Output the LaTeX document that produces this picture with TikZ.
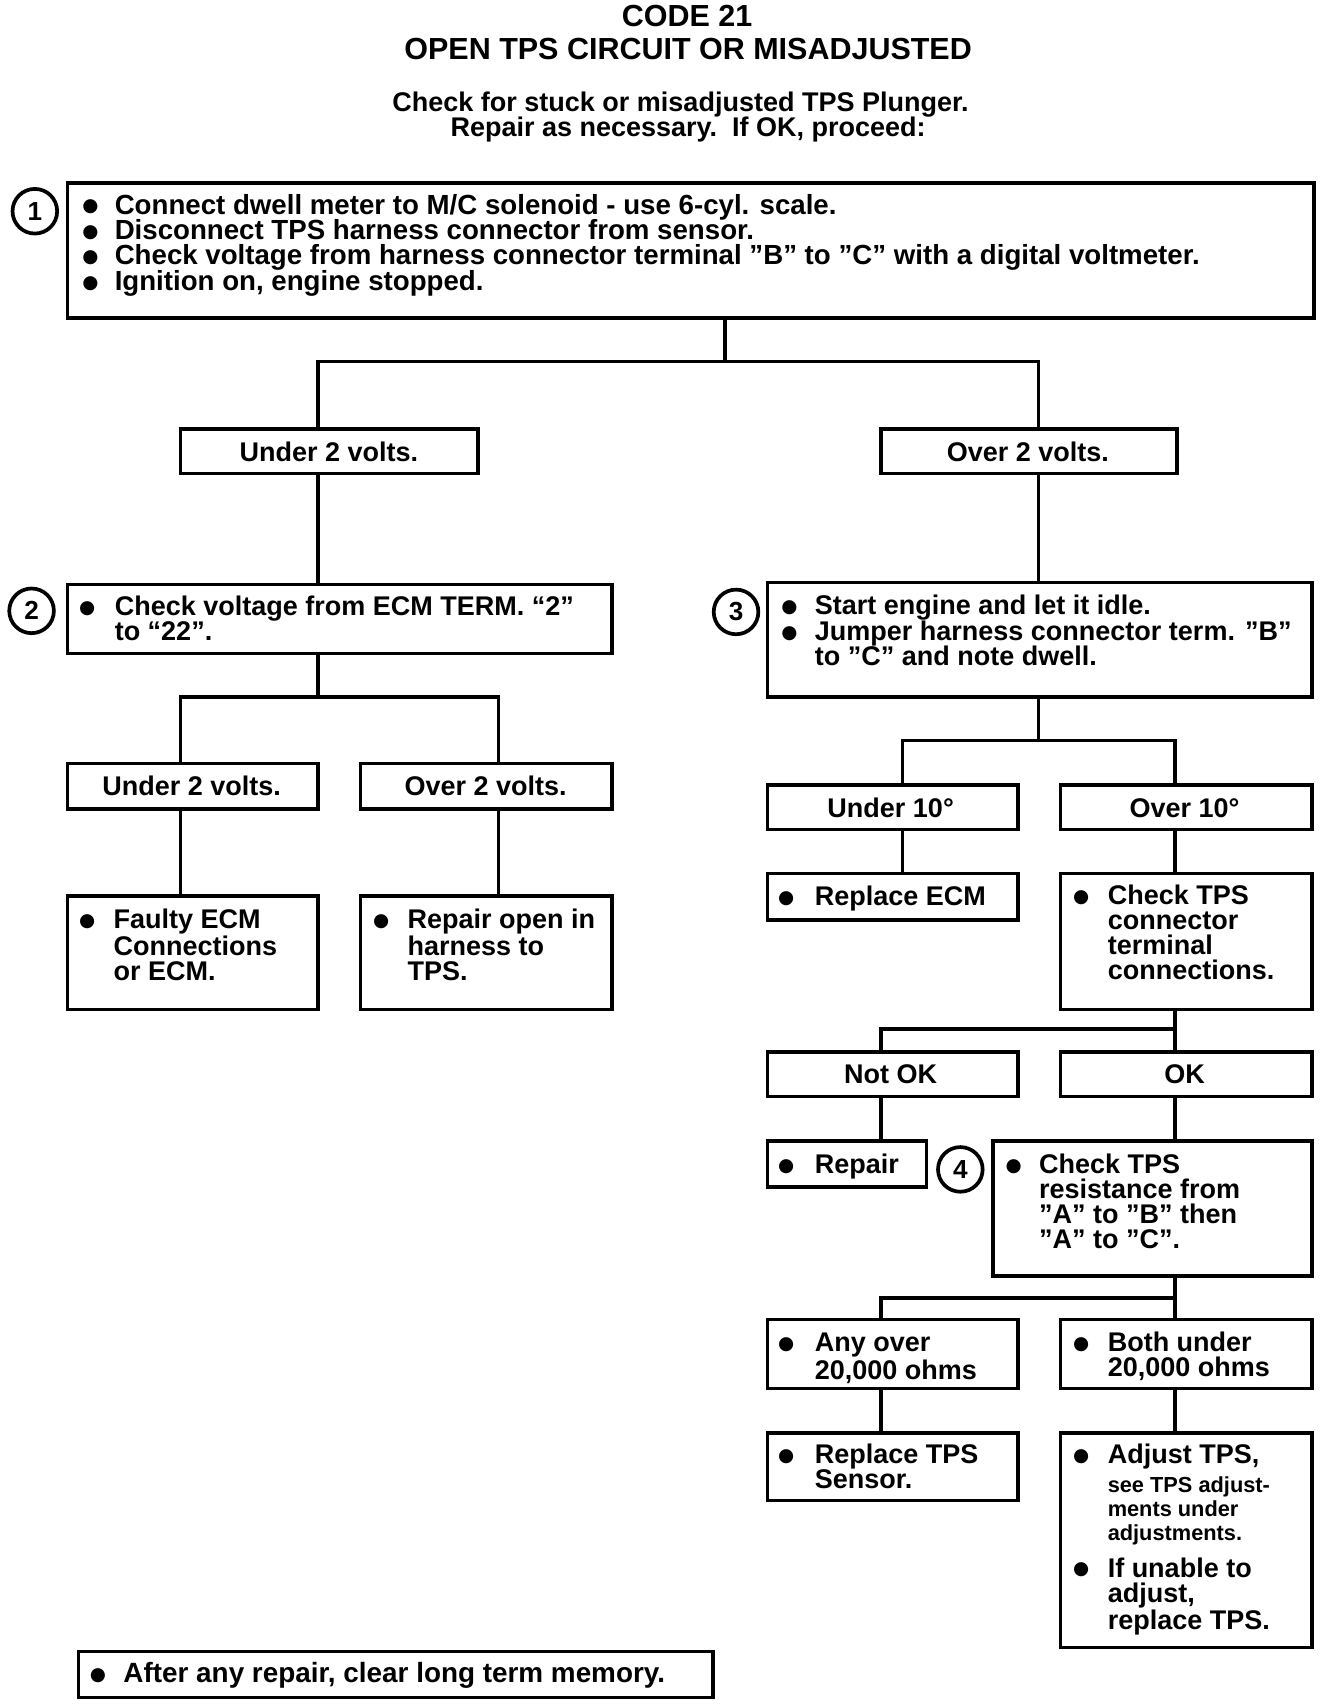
\documentclass[tikz,border=0pt]{standalone}
\usepackage{fontspec}
\setmainfont{Liberation Sans}
\newfontfamily\dejavu{DejaVu Sans}
\usetikzlibrary{fit}
\newcommand\tline[1]{\hbox{#1}}
\begin{document}
\begin{tikzpicture}[x=0.5pt,y=-0.5pt,
  box/.style={draw, line width=1.6pt, inner sep=0pt, rectangle},
  lbl/.style={anchor=center, inner sep=0pt, font=\bfseries\fontsize{12.4pt}{12.4pt}\selectfont, text height=8.9pt, text depth=0pt},
  conn/.style={line width=1.6pt, line join=miter},
  txt/.style={anchor=base west, inner sep=0pt, font=\bfseries\fontsize{12.4pt}{11.5pt}\selectfont},
  bul/.style={anchor=base, inner sep=0pt, yshift=1pt, font=\dejavu\fontsize{8.5pt}{8.5pt}\selectfont},
  small/.style={anchor=base west, inner sep=0pt, font=\bfseries\fontsize{10pt}{11pt}\selectfont},
  num/.style={circle, draw, line width=1.7pt, minimum size=20.5pt, inner sep=0pt, font=\bfseries\fontsize{12pt}{12pt}\selectfont},
  ttl/.style={anchor=base, inner sep=0pt, font=\bfseries\fontsize{14pt}{14pt}\selectfont},
  sub/.style={anchor=base, inner sep=0pt, font=\bfseries\fontsize{12.4pt}{12.4pt}\selectfont}]
\path[fill=white,use as bounding box] (0,0) rectangle (1220,1565);

% titles
\node[ttl] (t1) at (631,24.5) {CODE 21};
\node[ttl] (t2) at (632,54.5) {OPEN TPS CIRCUIT OR MISADJUSTED};
\node[sub] (s1) at (625,102.6) {Check for stuck or misadjusted TPS Plunger.};
\node[sub] (s2) at (632,125.6) {Repair as necessary.\ \ If OK, proceed:};

% boxes
\node[box, fit={(62,168) (1207,292)}] (b1) {};
\node[box, fit={(166,394) (439,435)}] (u2) {};
\node[box, fit={(809,394) (1081,435)}] (o2) {};
\node[box, fit={(62,537) (562,600)}] (b2) {};
\node[box, fit={(62,701) (292,743)}] (u2b) {};
\node[box, fit={(331,701) (562,743)}] (o2b) {};
\node[box, fit={(62,823) (292,927)}] (fe) {};
\node[box, fit={(331,823) (562,927)}] (ro) {};
\node[box, fit={(705,535) (1205,640)}] (b3) {};
\node[box, fit={(705,721) (935,762)}] (u10) {};
\node[box, fit={(974,721) (1205,762)}] (o10) {};
\node[box, fit={(705,802) (935,845)}] (re) {};
\node[box, fit={(974,802) (1205,927)}] (ct) {};
\node[box, fit={(705,966) (935,1007)}] (nok) {};
\node[box, fit={(974,966) (1205,1007)}] (ok) {};
\node[box, fit={(705,1048) (851,1090)}] (rp) {};
\node[box, fit={(912,1048) (1205,1172)}] (b4) {};
\node[box, fit={(705,1212) (935,1275)}] (ao) {};
\node[box, fit={(974,1212) (1205,1275)}] (bu) {};
\node[box, fit={(705,1316) (935,1378)}] (rt) {};
\node[box, fit={(974,1316) (1205,1513)}] (ad) {};
\node[box, fit={(72,1517) (655,1559)}] (af) {};

% single-line labels
\node[lbl] (lu2) at (302,414.5) {Under 2 volts.};
\node[lbl] (lo2) at (944,414.5) {Over 2 volts.};
\node[lbl] (lu2b) at (176,722) {Under 2 volts.};
\node[lbl] (lo2b) at (446,722) {Over 2 volts.};
\node[lbl] (lu10) at (818,741.5) {Under 10°};
\node[lbl] (lo10) at (1088,741.5) {Over 10°};
\node[lbl] (lnok) at (818,986.5) {Not OK};
\node[lbl] (lok) at (1088,986.5) {OK};

% step numbers
\node[num] (n1) at (32,194) {1};
\node[num] (n2) at (29,561) {2};
\node[num] (n3) at (676,562) {3};
\node[num] (n4) at (882,1074) {4};

% connector coordinates
\coordinate (j1) at (666,332); \coordinate (j1l) at (292,332); \coordinate (j1r) at (954,332);
\coordinate (j2) at (292,640); \coordinate (j2l) at (166,640); \coordinate (j2r) at (458,640);
\coordinate (j3) at (954,680); \coordinate (j3l) at (829,680); \coordinate (j3r) at (1079,680);
\coordinate (j4l) at (809,945); \coordinate (j4r) at (1079,945);
\coordinate (j5l) at (809,1192); \coordinate (j5r) at (1079,1192);

% connectors
\draw[conn] (b1.south -| j1) -- (j1);
\draw[conn] (u2.north -| j1l) -- (j1l) -- (j1r) -- (o2.north -| j1r);
\draw[conn] (u2.south -| j1l) -- (b2.north -| j1l);
\draw[conn] (o2.south -| j1r) -- (b3.north -| j1r);
\draw[conn] (b2.south -| j2) -- (j2);
\draw[conn] (u2b.north -| j2l) -- (j2l) -- (j2r) -- (o2b.north -| j2r);
\draw[conn] (u2b.south -| j2l) -- (fe.north -| j2l);
\draw[conn] (o2b.south -| j2r) -- (ro.north -| j2r);
\draw[conn] (b3.south -| j3) -- (j3);
\draw[conn] (u10.north -| j3l) -- (j3l) -- (j3r) -- (o10.north -| j3r);
\draw[conn] (u10.south -| j3l) -- (re.north -| j3l);
\draw[conn] (o10.south -| j3r) -- (ct.north -| j3r);
\draw[conn] (ct.south -| j4r) -- (j4r);
\draw[conn] (nok.north -| j4l) -- (j4l) -- (j4r) -- (ok.north -| j4r);
\draw[conn] (nok.south -| j4l) -- (rp.north -| j4l);
\draw[conn] (ok.south -| j4r) -- (b4.north -| j4r);
\draw[conn] (b4.south -| j5r) -- (j5r);
\draw[conn] (ao.north -| j5l) -- (j5l) -- (j5r) -- (bu.north -| j5r);
\draw[conn] (ao.south -| j5l) -- (rt.north -| j5l);
\draw[conn] (bu.south -| j5r) -- (ad.north -| j5r);

% box 1 text
\begin{scope}[txt/.append style={font=\bfseries\fontsize{12.7pt}{11.5pt}\selectfont}]
\node[bul] (p1a) at (83,196.6) {●};
\node[bul] (p1b) at (83,219.9) {●};
\node[bul] (p1c) at (83,243.2) {●};
\node[bul] (p1d) at (83,266.5) {●};
\node[txt] (x1a) at (105,196.6) {Connect dwell meter to M/C solenoid - use 6-cyl. scale.};
\node[txt] (x1b) at (105,219.9) {Disconnect TPS harness connector from sensor.};
\node[txt] (x1c) at (105,243.2) {Check voltage from harness connector terminal ”B” to ”C” with a digital voltmeter.};
\node[txt] (x1d) at (105,266.5) {Ignition on, engine stopped.};
\end{scope}

% box 2 text
\node[bul] (p2) at (80,565) {●};
\node[txt, font=\bfseries\fontsize{12.4pt}{11.75pt}\selectfont] (x2) at (105,565) {\vtop{\tline{Check voltage from ECM TERM. “2”}\tline{to “22”.}}};

% box 3 text
\node[bul] (p3a) at (725,564.5) {●};
\node[bul] (p3b) at (725,588) {●};
\node[txt] (x3a) at (748,564.5) {Start engine and let it idle.};
\node[txt, font=\bfseries\fontsize{12.4pt}{11.75pt}\selectfont] (x3b) at (748,588) {\vtop{\tline{Jumper harness connector term. ”B”}\tline{to ”C” and note dwell.}}};

% left leaves
\node[bul] (pfe) at (80,852.5) {●};
\node[txt] (xfe) at (104,852.5) {\vtop{\tline{Faulty ECM}\tline{Connections}\tline{or ECM.}}};
\node[bul] (pro) at (350,852.5) {●};
\node[txt] (xro) at (374,852.5) {\vtop{\tline{Repair open in}\tline{harness to}\tline{TPS.}}};

% right column text
\node[bul] (pre) at (722,831.5) {●};
\node[txt] (xre) at (748,831.5) {Replace ECM};
\node[bul] (pct) at (993,830.5) {●};
\node[txt] (xct) at (1017,830.5) {\vtop{\tline{Check TPS}\tline{connector}\tline{terminal}\tline{connections.}}};
\node[bul] (prp) at (722,1077.5) {●};
\node[txt] (xrp) at (748,1077.5) {Repair};
\node[bul] (pb4) at (931,1077.5) {●};
\node[txt] (xb4) at (954,1077.5) {\vtop{\tline{Check TPS}\tline{resistance from}\tline{”A” to ”B” then}\tline{”A” to ”C”.}}};
\node[bul] (pao) at (722,1241.5) {●};
\node[txt] (xao) at (748,1241.5) {\vtop{\tline{Any over}\tline{20,000 ohms}}};
\node[bul] (pbu) at (993,1241.5) {●};
\node[txt] (xbu) at (1017,1241.5) {\vtop{\tline{Both under}\tline{20,000 ohms}}};
\node[bul] (prt) at (722,1344.5) {●};
\node[txt] (xrt) at (748,1344.5) {\vtop{\tline{Replace TPS}\tline{Sensor.}}};
\node[bul] (pad1) at (993,1344.5) {●};
\node[txt] (xad1) at (1017,1344.5) {Adjust TPS,};
\node[small] (xad2) at (1017,1371) {\vtop{\tline{see TPS adjust-}\tline{ments under}\tline{adjustments.}}};
\node[bul] (pad2) at (993,1448.5) {●};
\node[txt] (xad3) at (1017,1448.5) {\vtop{\tline{If unable to}\tline{adjust,}\tline{replace TPS.}}};

% bottom note
\node[bul] (paf) at (90,1545.5) {●};
\node[txt, font=\bfseries\fontsize{12.8pt}{11.5pt}\selectfont] (xaf) at (113,1545.5) {After any repair, clear long term memory.};
\end{tikzpicture}
\end{document}
